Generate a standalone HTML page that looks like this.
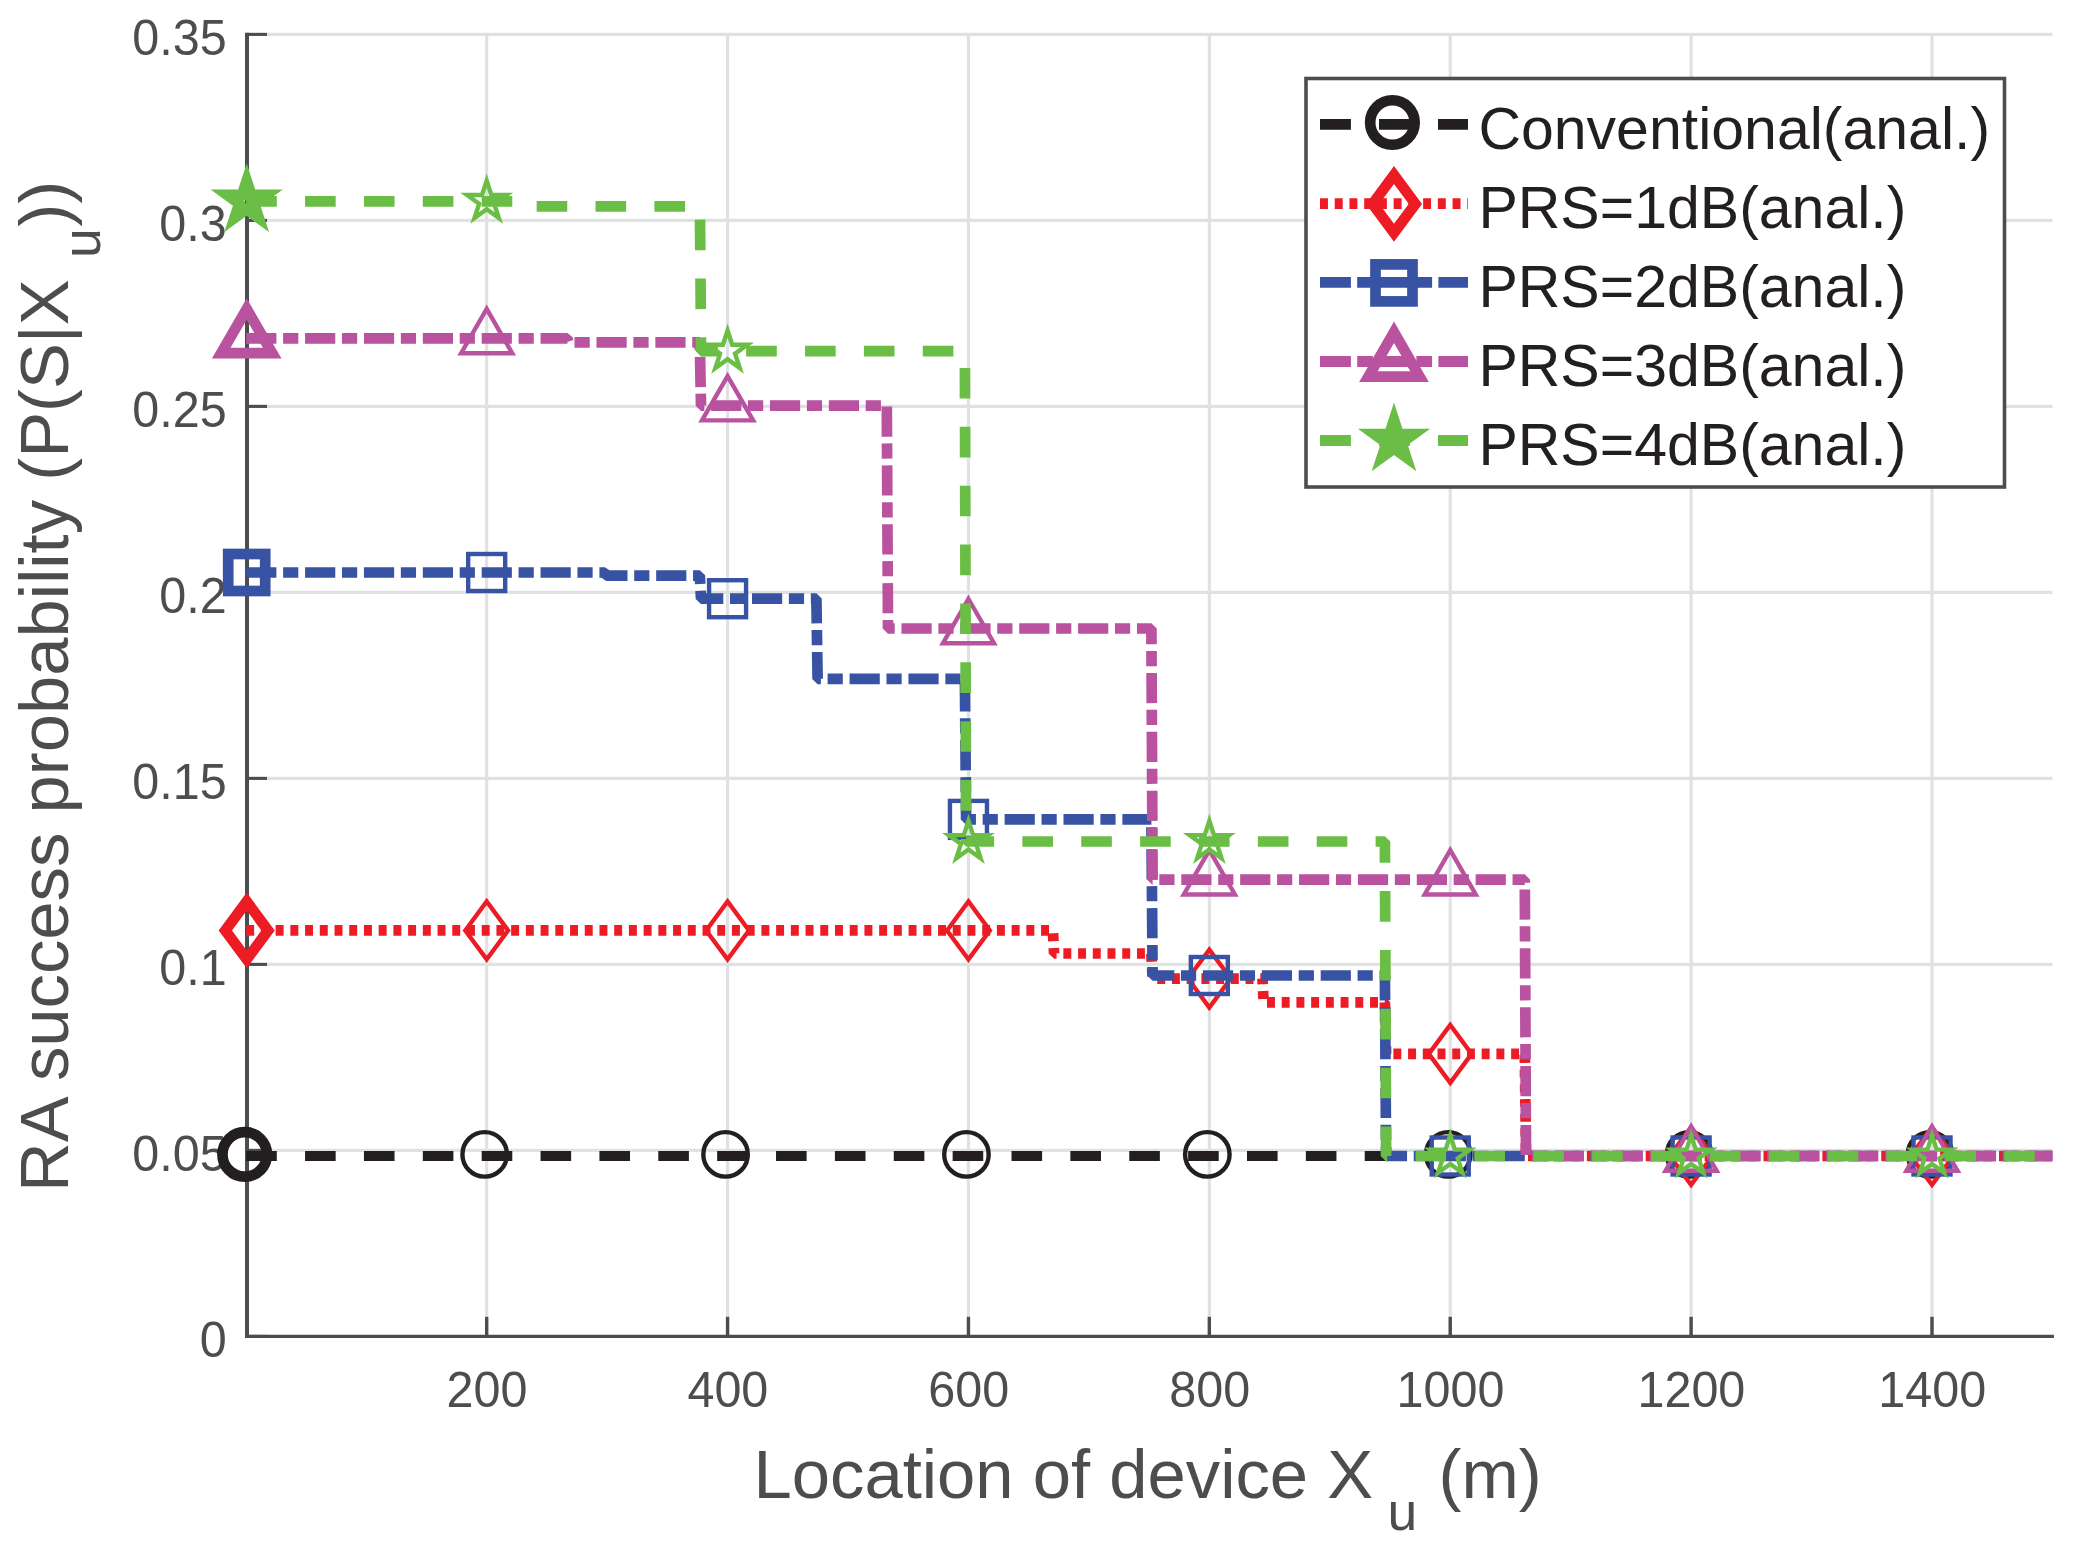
<!DOCTYPE html>
<html lang="en"><head><meta charset="utf-8"><title>RA success probability</title>
<style>html,body{margin:0;padding:0;background:#fff}svg{display:block}text{font-family:"Liberation Sans", Arial, Helvetica, sans-serif}</style>
</head><body>
<svg width="2076" height="1547" viewBox="0 0 2076 1547">
<rect width="2076" height="1547" fill="#ffffff"/>
<g stroke="#e0e1e2" stroke-width="3.2" fill="none">
<line x1="486.68" y1="34.4" x2="486.68" y2="1336.4"/>
<line x1="727.57" y1="34.4" x2="727.57" y2="1336.4"/>
<line x1="968.45" y1="34.4" x2="968.45" y2="1336.4"/>
<line x1="1209.34" y1="34.4" x2="1209.34" y2="1336.4"/>
<line x1="1450.23" y1="34.4" x2="1450.23" y2="1336.4"/>
<line x1="1691.11" y1="34.4" x2="1691.11" y2="1336.4"/>
<line x1="1932" y1="34.4" x2="1932" y2="1336.4"/>
<line x1="247" y1="1150.4" x2="2052.44" y2="1150.4"/>
<line x1="247" y1="964.4" x2="2052.44" y2="964.4"/>
<line x1="247" y1="778.4" x2="2052.44" y2="778.4"/>
<line x1="247" y1="592.4" x2="2052.44" y2="592.4"/>
<line x1="247" y1="406.4" x2="2052.44" y2="406.4"/>
<line x1="247" y1="220.4" x2="2052.44" y2="220.4"/>
<line x1="247" y1="34.4" x2="2052.44" y2="34.4"/>
</g>
<g stroke="#4c4d4f" stroke-width="3.4" fill="none" stroke-linecap="butt">
<line x1="247" y1="32.8" x2="247" y2="1338" stroke-width="4"/>
<line x1="245" y1="1336.4" x2="2053.94" y2="1336.4" stroke-width="3.2"/>
<line x1="486.68" y1="1336.4" x2="486.68" y2="1316.8"/>
<line x1="727.57" y1="1336.4" x2="727.57" y2="1316.8"/>
<line x1="968.45" y1="1336.4" x2="968.45" y2="1316.8"/>
<line x1="1209.34" y1="1336.4" x2="1209.34" y2="1316.8"/>
<line x1="1450.23" y1="1336.4" x2="1450.23" y2="1316.8"/>
<line x1="1691.11" y1="1336.4" x2="1691.11" y2="1316.8"/>
<line x1="1932" y1="1336.4" x2="1932" y2="1316.8"/>
<line x1="247" y1="1336.4" x2="267" y2="1336.4" stroke-width="3.1"/>
<line x1="247" y1="1150.4" x2="267" y2="1150.4" stroke-width="3.1"/>
<line x1="247" y1="964.4" x2="267" y2="964.4" stroke-width="3.1"/>
<line x1="247" y1="778.4" x2="267" y2="778.4" stroke-width="3.1"/>
<line x1="247" y1="592.4" x2="267" y2="592.4" stroke-width="3.1"/>
<line x1="247" y1="406.4" x2="267" y2="406.4" stroke-width="3.1"/>
<line x1="247" y1="220.4" x2="267" y2="220.4" stroke-width="3.1"/>
<line x1="247" y1="34.4" x2="267" y2="34.4" stroke-width="3.1"/>
</g>
<g fill="#4c4d4f" font-size="48.5">
<text transform="translate(486.98,1406.8) scale(1,1.04)" text-anchor="middle">200</text>
<text transform="translate(727.87,1406.8) scale(1,1.04)" text-anchor="middle">400</text>
<text transform="translate(968.75,1406.8) scale(1,1.04)" text-anchor="middle">600</text>
<text transform="translate(1209.64,1406.8) scale(1,1.04)" text-anchor="middle">800</text>
<text transform="translate(1450.53,1406.8) scale(1,1.04)" text-anchor="middle">1000</text>
<text transform="translate(1691.41,1406.8) scale(1,1.04)" text-anchor="middle">1200</text>
<text transform="translate(1932.3,1406.8) scale(1,1.04)" text-anchor="middle">1400</text>
<text transform="translate(226.7,1357) scale(1,1.04)" text-anchor="end">0</text>
<text transform="translate(226.7,1171) scale(1,1.04)" text-anchor="end">0.05</text>
<text transform="translate(226.7,985) scale(1,1.04)" text-anchor="end">0.1</text>
<text transform="translate(226.7,799) scale(1,1.04)" text-anchor="end">0.15</text>
<text transform="translate(226.7,613) scale(1,1.04)" text-anchor="end">0.2</text>
<text transform="translate(226.7,427) scale(1,1.04)" text-anchor="end">0.25</text>
<text transform="translate(226.7,241) scale(1,1.04)" text-anchor="end">0.3</text>
<text transform="translate(226.7,55) scale(1,1.04)" text-anchor="end">0.35</text>
</g>
<polyline points="246.2,1156 2052.44,1156" fill="none" stroke="#231f20" stroke-width="10.1" stroke-dasharray="30.6 28.27" stroke-linejoin="bevel" stroke-linecap="butt"/>
<circle cx="244.7" cy="1154.4" r="22.25" fill="none" stroke="#231f20" stroke-width="10.7"/>
<circle cx="484.68" cy="1154.4" r="22.25" fill="none" stroke="#231f20" stroke-width="4.4"/>
<circle cx="725.57" cy="1154.4" r="22.25" fill="none" stroke="#231f20" stroke-width="4.4"/>
<circle cx="966.45" cy="1154.4" r="22.25" fill="none" stroke="#231f20" stroke-width="4.4"/>
<circle cx="1207.34" cy="1154.4" r="22.25" fill="none" stroke="#231f20" stroke-width="4.4"/>
<circle cx="1448.23" cy="1154.4" r="22.25" fill="none" stroke="#231f20" stroke-width="4.4"/>
<circle cx="1689.11" cy="1154.4" r="22.25" fill="none" stroke="#231f20" stroke-width="4.4"/>
<circle cx="1930" cy="1154.4" r="22.25" fill="none" stroke="#231f20" stroke-width="4.4"/>
<polyline points="246.2,930.45 1052.9,930.45 1054.1,953.5 1151.4,953.5 1152.6,978.55 1262.45,978.55 1263.65,1002.45 1384.9,1002.45 1386.1,1053.9 1524.8,1053.9 1526,1156 2052.44,1156" fill="none" stroke="#ed1c24" stroke-width="10.7" stroke-dasharray="7.95 6.77" stroke-linejoin="bevel" stroke-linecap="butt"/>
<polygon points="225.3,930.45 246.7,901.55 268.1,930.45 246.7,959.35" fill="none" stroke="#ed1c24" stroke-width="10.7" stroke-linejoin="miter" stroke-miterlimit="10"/>
<polygon points="465.28,930.45 486.68,901.55 508.08,930.45 486.68,959.35" fill="none" stroke="#ed1c24" stroke-width="4.4" stroke-linejoin="miter" stroke-miterlimit="10"/>
<polygon points="706.17,930.45 727.57,901.55 748.97,930.45 727.57,959.35" fill="none" stroke="#ed1c24" stroke-width="4.4" stroke-linejoin="miter" stroke-miterlimit="10"/>
<polygon points="947.05,930.45 968.45,901.55 989.85,930.45 968.45,959.35" fill="none" stroke="#ed1c24" stroke-width="4.4" stroke-linejoin="miter" stroke-miterlimit="10"/>
<polygon points="1187.94,978.55 1209.34,949.65 1230.74,978.55 1209.34,1007.45" fill="none" stroke="#ed1c24" stroke-width="4.4" stroke-linejoin="miter" stroke-miterlimit="10"/>
<polygon points="1428.83,1053.9 1450.23,1025 1471.63,1053.9 1450.23,1082.8" fill="none" stroke="#ed1c24" stroke-width="4.4" stroke-linejoin="miter" stroke-miterlimit="10"/>
<polygon points="1669.71,1156 1691.11,1127.1 1712.51,1156 1691.11,1184.9" fill="none" stroke="#ed1c24" stroke-width="4.4" stroke-linejoin="miter" stroke-miterlimit="10"/>
<polygon points="1910.6,1156 1932,1127.1 1953.4,1156 1932,1184.9" fill="none" stroke="#ed1c24" stroke-width="4.4" stroke-linejoin="miter" stroke-miterlimit="10"/>
<polyline points="246.2,572.5 604.9,572.5 606.1,575.6 699.8,575.6 701,598.7 816.4,598.7 817.6,678.9 964.9,678.9 966.1,819.4 1151.4,819.4 1152.6,975.5 1384.9,975.5 1386.1,1156 2052.44,1156" fill="none" stroke="#3953a4" stroke-width="10.7" stroke-dasharray="30.2 6.7 15.2 6.77" stroke-linejoin="bevel" stroke-linecap="butt"/>
<rect x="228.2" y="554" width="37" height="37" fill="none" stroke="#3953a4" stroke-width="10.7"/>
<rect x="468.18" y="554" width="37" height="37" fill="none" stroke="#3953a4" stroke-width="4.4"/>
<rect x="709.07" y="580.2" width="37" height="37" fill="none" stroke="#3953a4" stroke-width="4.4"/>
<rect x="949.95" y="800.9" width="37" height="37" fill="none" stroke="#3953a4" stroke-width="4.4"/>
<rect x="1190.84" y="957" width="37" height="37" fill="none" stroke="#3953a4" stroke-width="4.4"/>
<rect x="1431.73" y="1137.5" width="37" height="37" fill="none" stroke="#3953a4" stroke-width="4.4"/>
<rect x="1672.61" y="1137.5" width="37" height="37" fill="none" stroke="#3953a4" stroke-width="4.4"/>
<rect x="1913.5" y="1137.5" width="37" height="37" fill="none" stroke="#3953a4" stroke-width="4.4"/>
<polyline points="246.2,338.45 567.4,338.45 568.6,342.4 699.8,342.4 701,405.6 886.8,405.6 888,628.5 1151.4,628.5 1152.6,879.7 1524.8,879.7 1526,1156 2052.44,1156" fill="none" stroke="#b9529f" stroke-width="10.7" stroke-dasharray="30.2 6.7 15.2 6.77" stroke-linejoin="bevel" stroke-linecap="butt"/>
<polygon points="246.7,308.95 272.25,353.2 221.15,353.2" fill="none" stroke="#b9529f" stroke-width="10.7" stroke-linejoin="miter" stroke-miterlimit="10"/>
<polygon points="486.68,308.95 512.23,353.2 461.13,353.2" fill="none" stroke="#b9529f" stroke-width="4.4" stroke-linejoin="miter" stroke-miterlimit="10"/>
<polygon points="727.57,376.1 753.12,420.35 702.02,420.35" fill="none" stroke="#b9529f" stroke-width="4.4" stroke-linejoin="miter" stroke-miterlimit="10"/>
<polygon points="968.45,599 994,643.25 942.91,643.25" fill="none" stroke="#b9529f" stroke-width="4.4" stroke-linejoin="miter" stroke-miterlimit="10"/>
<polygon points="1209.34,850.2 1234.89,894.45 1183.79,894.45" fill="none" stroke="#b9529f" stroke-width="4.4" stroke-linejoin="miter" stroke-miterlimit="10"/>
<polygon points="1450.23,850.2 1475.77,894.45 1424.68,894.45" fill="none" stroke="#b9529f" stroke-width="4.4" stroke-linejoin="miter" stroke-miterlimit="10"/>
<polygon points="1691.11,1126.5 1716.66,1170.75 1665.56,1170.75" fill="none" stroke="#b9529f" stroke-width="4.4" stroke-linejoin="miter" stroke-miterlimit="10"/>
<polygon points="1932,1126.5 1957.55,1170.75 1906.45,1170.75" fill="none" stroke="#b9529f" stroke-width="4.4" stroke-linejoin="miter" stroke-miterlimit="10"/>
<polyline points="246.2,201.35 519.4,201.35 520.6,206.3 699.9,206.3 701.1,351.2 964.9,351.2 966.1,841.5 1384.9,841.5 1386.1,1156 2052.44,1156" fill="none" stroke="#6abd45" stroke-width="10.7" stroke-dasharray="30.6 28.27" stroke-linejoin="bevel" stroke-linecap="butt"/>
<polygon points="246.7,180.65 251.35,194.95 266.39,194.95 254.22,203.79 258.87,218.1 246.7,209.26 234.53,218.1 239.18,203.79 227.01,194.95 242.05,194.95" fill="none" stroke="#6abd45" stroke-width="10.7" stroke-linejoin="miter" stroke-miterlimit="10"/>
<polygon points="486.68,180.65 491.33,194.95 506.37,194.95 494.2,203.79 498.85,218.1 486.68,209.26 474.51,218.1 479.16,203.79 466.99,194.95 482.03,194.95" fill="none" stroke="#6abd45" stroke-width="4.4" stroke-linejoin="miter" stroke-miterlimit="10"/>
<polygon points="727.57,330.5 732.22,344.8 747.25,344.8 735.09,353.64 739.73,367.95 727.57,359.11 715.4,367.95 720.05,353.64 707.88,344.8 722.92,344.8" fill="none" stroke="#6abd45" stroke-width="4.4" stroke-linejoin="miter" stroke-miterlimit="10"/>
<polygon points="968.45,820.8 973.1,835.1 988.14,835.1 975.97,843.94 980.62,858.25 968.45,849.41 956.29,858.25 960.93,843.94 948.77,835.1 963.81,835.1" fill="none" stroke="#6abd45" stroke-width="4.4" stroke-linejoin="miter" stroke-miterlimit="10"/>
<polygon points="1209.34,820.8 1213.99,835.1 1229.03,835.1 1216.86,843.94 1221.51,858.25 1209.34,849.41 1197.17,858.25 1201.82,843.94 1189.65,835.1 1204.69,835.1" fill="none" stroke="#6abd45" stroke-width="4.4" stroke-linejoin="miter" stroke-miterlimit="10"/>
<polygon points="1450.23,1135.3 1454.87,1149.6 1469.91,1149.6 1457.75,1158.44 1462.39,1172.75 1450.23,1163.91 1438.06,1172.75 1442.71,1158.44 1430.54,1149.6 1445.58,1149.6" fill="none" stroke="#6abd45" stroke-width="4.4" stroke-linejoin="miter" stroke-miterlimit="10"/>
<polygon points="1691.11,1135.3 1695.76,1149.6 1710.8,1149.6 1698.63,1158.44 1703.28,1172.75 1691.11,1163.91 1678.94,1172.75 1683.59,1158.44 1671.42,1149.6 1686.46,1149.6" fill="none" stroke="#6abd45" stroke-width="4.4" stroke-linejoin="miter" stroke-miterlimit="10"/>
<polygon points="1932,1135.3 1936.65,1149.6 1951.68,1149.6 1939.52,1158.44 1944.16,1172.75 1932,1163.91 1919.83,1172.75 1924.48,1158.44 1912.31,1149.6 1927.35,1149.6" fill="none" stroke="#6abd45" stroke-width="4.4" stroke-linejoin="miter" stroke-miterlimit="10"/>
<rect x="1306.0" y="78.5" width="698.5" height="408.5" fill="#ffffff" stroke="#4c4d4f" stroke-width="3.6"/>
<line x1="1320" y1="124.4" x2="1468" y2="124.4" stroke="#231f20" stroke-width="10.8" stroke-dasharray="30.9 28.1"/>
<circle cx="1392.4" cy="122.5" r="22.25" fill="none" stroke="#231f20" stroke-width="10.7"/>
<text x="1478.4" y="148.6" font-size="59" fill="#231f20">Conventional(anal.)</text>
<line x1="1320" y1="203.6" x2="1468" y2="203.6" stroke="#ed1c24" stroke-width="10.8" stroke-dasharray="7.95 6.78"/>
<polygon points="1372.6,203.9 1394,175 1415.4,203.9 1394,232.8" fill="none" stroke="#ed1c24" stroke-width="10.7" stroke-linejoin="miter" stroke-miterlimit="10"/>
<text x="1478.4" y="227.8" font-size="59" fill="#231f20">PRS=1dB(anal.)</text>
<line x1="1320" y1="282.4" x2="1468" y2="282.4" stroke="#3953a4" stroke-width="10.8" stroke-dasharray="30.9 6.3 15.7 6.3"/>
<rect x="1375.5" y="264.4" width="37" height="37" fill="none" stroke="#3953a4" stroke-width="10.7"/>
<text x="1478.4" y="306.6" font-size="59" fill="#231f20">PRS=2dB(anal.)</text>
<line x1="1320" y1="361.5" x2="1468" y2="361.5" stroke="#b9529f" stroke-width="10.8" stroke-dasharray="30.9 6.3 15.7 6.3"/>
<polygon points="1394,332.3 1419.55,376.55 1368.45,376.55" fill="none" stroke="#b9529f" stroke-width="10.7" stroke-linejoin="miter" stroke-miterlimit="10"/>
<text x="1478.4" y="385.7" font-size="59" fill="#231f20">PRS=3dB(anal.)</text>
<line x1="1320" y1="440.5" x2="1468" y2="440.5" stroke="#6abd45" stroke-width="10.8" stroke-dasharray="30.9 28.1"/>
<polygon points="1394,419.9 1398.65,434.2 1413.69,434.2 1401.52,443.04 1406.17,457.35 1394,448.51 1381.83,457.35 1386.48,443.04 1374.31,434.2 1389.35,434.2" fill="none" stroke="#6abd45" stroke-width="10.7" stroke-linejoin="miter" stroke-miterlimit="10"/>
<text x="1478.4" y="464.7" font-size="59" fill="#231f20">PRS=4dB(anal.)</text>
<g fill="#4c4d4f">
<text x="753.5" y="1497.7" font-size="68.8">Location of device X</text>
<text x="1387.6" y="1530.3" font-size="53.5">u</text>
<text x="1419.4" y="1497.7" font-size="68.8" xml:space="preserve"> (m)</text>
</g>
<g fill="#4c4d4f" transform="translate(67.8,1186.7) rotate(-90)">
<text x="-5.3" y="0" font-size="68.8">RA success probability (P(S|X</text>
<text x="928.8" y="32.6" font-size="53.5">u</text>
<text x="960" y="0" font-size="68.8">))</text>
</g>
</svg>
</body></html>
